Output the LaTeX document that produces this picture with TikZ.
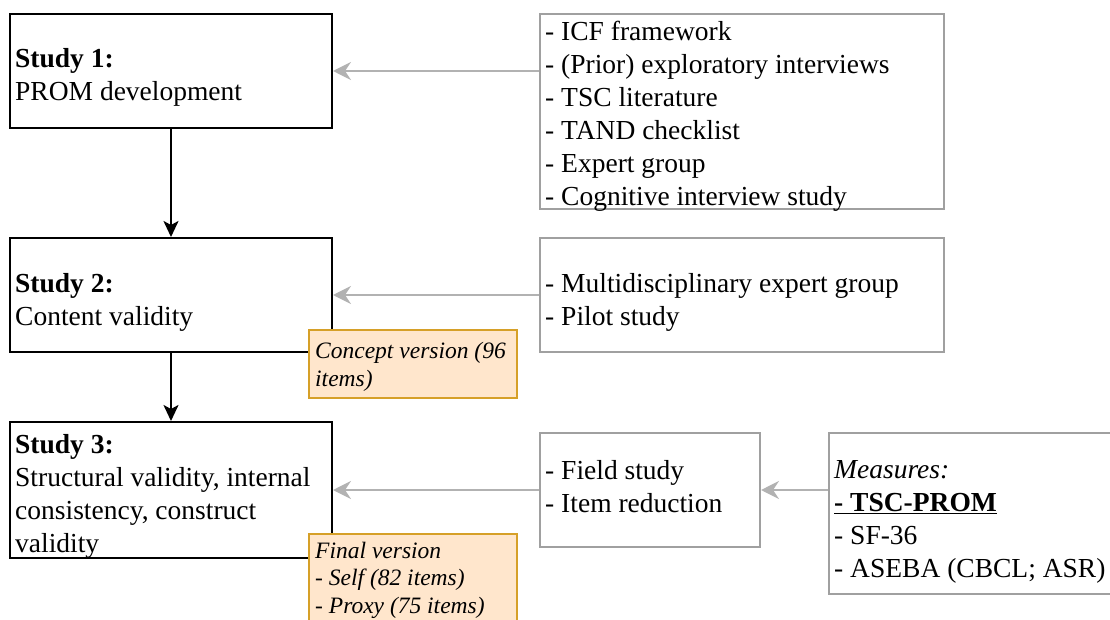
\documentclass[tikz,border=0pt]{standalone}
\usepackage{fontspec}
\setmainfont{Liberation Serif}
\usetikzlibrary{arrows.meta}
\definecolor{boxgray}{RGB}{160,160,160}
\definecolor{arrgray}{RGB}{178,178,178}
\definecolor{orfill}{RGB}{255,230,204}
\definecolor{ordraw}{RGB}{214,160,40}
\tikzset{
  studybox/.style={rectangle, draw=black, line width=2pt, fill=white, inner sep=0pt},
  srcbox/.style={rectangle, draw=boxgray, line width=2pt, fill=white, inner sep=0pt},
  notebox/.style={rectangle, draw=ordraw, line width=2pt, fill=orfill, inner sep=0pt},
  txt/.style={anchor=west, align=left, inner xsep=6pt, inner ysep=0pt,
    font=\fontsize{27.5}{33}\selectfont},
  notetxt/.style={anchor=west, align=left, inner xsep=7pt, inner ysep=0pt,
    font=\fontsize{23.5}{27.5}\selectfont\itshape},
  flowarrow/.style={draw=black, line width=2.2pt, -{Stealth[length=16pt,width=15pt,inset=4pt]}},
  srcarrow/.style={draw=arrgray, line width=2pt, -{Stealth[length=18pt,width=18pt,inset=6pt]}},
}
\begin{document}
\begin{tikzpicture}[x=1pt,y=-1pt]
\useasboundingbox (0,0) rectangle (1110,620);
% study boxes
\node[studybox, minimum width=322pt, minimum height=114pt] (s1) at (171,71) {};
\node[txt] (s1t) at ([yshift=-6.5pt]s1.west) {\textbf{Study 1:}\\PROM development};
\node[studybox, minimum width=322pt, minimum height=114pt] (s2) at (171,295) {};
\node[txt] (s2t) at ([yshift=-7pt]s2.west) {\textbf{Study 2:}\\Content validity};
\node[studybox, minimum width=322pt, minimum height=136pt] (s3) at (171,490) {};
\node[txt] (s3t) at ([yshift=-6pt]s3.west)
  {\textbf{Study 3:}\\Structural validity, internal\\consistency, construct\\validity};
% source boxes
\node[srcbox, minimum width=404pt, minimum height=195pt] (a) at (742,111.5) {};
\node[txt] (at) at ([yshift=-5pt]a.west)
  {- ICF framework\\- (Prior) exploratory interviews\\- TSC literature\\- TAND checklist\\- Expert group\\- Cognitive interview study};
\node[srcbox, minimum width=404pt, minimum height=114pt] (b) at (742,295) {};
\node[txt] (bt) at ([yshift=-7pt]b.west) {- Multidisciplinary expert group\\- Pilot study};
\node[srcbox, minimum width=220pt, minimum height=114pt] (c) at (650,490) {};
\node[txt] (ct) at ([yshift=3pt]c.west) {- Field study\\- Item reduction};
\node[srcbox, minimum width=292pt, minimum height=161pt] (d) at (975,513.5) {};
\node[txt] (dt) at ([yshift=-8pt]d.west)
  {\textit{Measures:}\\\underline{\textbf{- TSC-PROM}}\\- SF-36\\- ASEBA (CBCL; ASR)};
% connectors
\draw[flowarrow] (s1.south) -- (s2.north);
\draw[flowarrow] (s2.south) -- (s3.north);
\draw[srcarrow] (a.west |- s1.east) -- (s1.east);
\draw[srcarrow] (b.west) -- (s2.east);
\draw[srcarrow] (c.west) -- (s3.east);
\draw[srcarrow] (d.west |- c.east) -- (c.east);
% note boxes
\node[notebox, minimum width=208pt, minimum height=68pt] (n1) at (413,364) {};
\node[notetxt] (n1t) at ([yshift=-3pt]n1.west) {Concept version (96\\items)};
\node[notebox, minimum width=208pt, minimum height=100pt, anchor=north] (n2) at (413,533) {};
\node[notetxt] (n2t) at ([yshift=-47pt]n2.north west) {Final version\\- Self (82 items)\\- Proxy (75 items)};
\end{tikzpicture}
\end{document}
